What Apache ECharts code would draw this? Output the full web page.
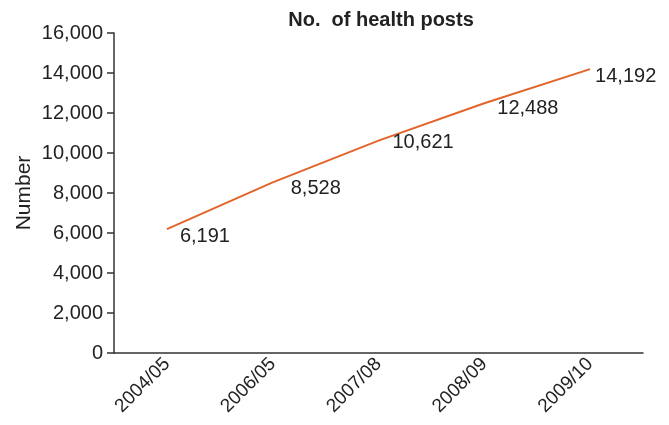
<!DOCTYPE html>
<html>
<head>
<meta charset="utf-8">
<script src="https://cdn.jsdelivr.net/npm/echarts@6/dist/echarts.min.js"></script>
<style>html,body{margin:0;padding:0;background:#fff}#c{width:669px;height:425px}</style>
</head>
<body>
<div id="c"></div>
<script>
const categories = ['2004/05', '2006/05', '2007/08', '2008/09', '2009/10'];
const healthPosts = [6191, 8528, 10621, 12488, 14192];
const yTicks = { min: 0, max: 16000, interval: 2000 };
const titleText = 'No.  of health posts';
const yName = 'Number';
// label offsets (style, not data)
const labelOffsets = [[8, 7], [13, 6], [9, 2], [8, 5], [0, 7]];

const font = 'Liberation Sans, Arial, sans-serif';
const chart = echarts.init(document.getElementById('c'));
chart.setOption({
  animation: false,
  title: {
    text: titleText, left: 376, top: 5, textAlign: 'center',
    textStyle: { fontFamily: font, fontWeight: 'bold', fontSize: 20, color: '#222' }
  },
  grid: { left: 114, right: 26, top: 33, bottom: 72 },
  xAxis: {
    type: 'category', data: categories, boundaryGap: true,
    axisLine: { lineStyle: { color: '#333', width: 1.5 } },
    axisTick: { length: 7, lineStyle: { color: '#333', width: 1.5 } },
    axisLabel: { rotate: 45, fontFamily: font, fontSize: 19, color: '#222', margin: 8 }
  },
  yAxis: {
    type: 'value', min: yTicks.min, max: yTicks.max, interval: yTicks.interval,
    name: yName, nameLocation: 'middle', nameGap: 79, nameRotate: 90,
    nameMoveOverlap: false,
    nameTextStyle: { fontFamily: font, fontSize: 21, color: '#222' },
    splitLine: { show: false },
    axisLine: { show: true, lineStyle: { color: '#333', width: 1.5 } },
    axisTick: { show: true, length: 7, lineStyle: { color: '#333', width: 1.5 } },
    axisLabel: {
      fontFamily: font, fontSize: 20, color: '#222', margin: 11,
      formatter: v => v.toLocaleString('en-US')
    }
  },
  series: [{
    type: 'line',
    data: healthPosts.map((v, i) => ({
      value: v,
      label: { offset: labelOffsets[i] }
    })),
    symbol: 'circle', symbolSize: 0,
    lineStyle: { color: '#e2642a', width: 2 },
    itemStyle: { color: '#e2642a' },
    label: {
      show: true, position: 'right', distance: 5,
      fontFamily: font, fontSize: 20, color: '#222',
      formatter: p => p.value.toLocaleString('en-US')
    }
  }]
});
</script>
</body>
</html>
